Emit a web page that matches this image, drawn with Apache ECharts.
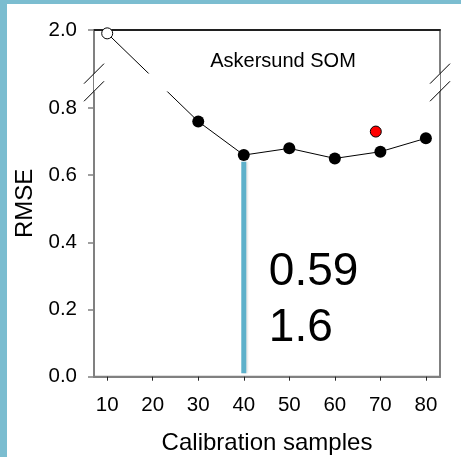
<!DOCTYPE html>
<html>
<head>
<meta charset="utf-8">
<script src="https://cdn.jsdelivr.net/npm/echarts@6/dist/echarts.min.js"></script>
<style>
html,body{margin:0;padding:0;background:#fff;}
#frame{position:absolute;left:0;top:0;width:461px;height:457px;background:#7bbdd0;}
#chart{position:absolute;left:7px;top:4px;width:454px;height:453px;background:#fff;}
</style>
</head>
<body>
<div id="frame"></div>
<div id="chart"></div>
<script>
// ---- data ----
const samples = [10, 30, 40, 50, 60, 70, 80];
const rmse = [1.99, 0.76, 0.66, 0.68, 0.65, 0.67, 0.71];
const outlierX = [69];
const outlierY = [0.73];
const highlightX = [40, 40];
const highlightY = [0.64, 0.01];
const xTicks = [10, 20, 30, 40, 50, 60, 70, 80];
const yTicks = [0, 0.2, 0.4, 0.6, 0.8, 2.0];
const yBreak = [0.85, 1.87];
const chartTitle = 'Askersund SOM';
const annotations = ['0.59', '1.6'];
const xName = 'Calibration samples';
const yName = 'RMSE';

const FONT = '"Liberation Sans", Arial, sans-serif';
const GRAY = '#808080';
const OX = 7, OY = 4; // chart div offset within page

const chart = echarts.init(document.getElementById('chart'), null, {renderer: 'canvas'});

const mainData = samples.map((x, i) => {
  const item = {value: [x, rmse[i]]};
  if (i === 0) {
    item.symbolSize = 11;
    item.itemStyle = {color: '#fff', borderColor: '#000', borderWidth: 1};
  }
  return item;
});

const option = {
  animation: false,
  grid: {
    left: 94 - OX, right: 21, top: 30 - OY, bottom: 80.3,
    outerBoundsMode: 'none', containLabel: false,
    show: true, borderColor: GRAY, borderWidth: 2, backgroundColor: 'transparent'
  },
  xAxis: [{
    type: 'value', min: 7.1, max: 83.1,
    name: xName, nameLocation: 'middle', nameGap: 55,
    nameTextStyle: {fontFamily: FONT, fontSize: 24, color: '#000'},
    axisLine: {show: true, lineStyle: {color: GRAY, width: 2}},
    axisTick: {show: true, length: 4, customValues: xTicks, lineStyle: {color: '#222', width: 1}},
    axisLabel: {customValues: xTicks, fontFamily: FONT, fontSize: 20.5, color: '#000', margin: 18},
    splitLine: {show: false}
  }, {
    type: 'value', position: 'top', min: 7.1, max: 83.1,
    axisLine: {show: true, onZero: false, lineStyle: {color: '#000', width: 1.5}},
    axisTick: {show: false}, axisLabel: {show: false}, splitLine: {show: false}
  }],
  yAxis: [{
    type: 'value', min: 0, max: 2.0,
    breaks: [{start: yBreak[0], end: yBreak[1], gap: '5.08%'}],
    breakArea: {
      show: true,
      itemStyle: {color: '#fff', opacity: 1, borderWidth: 0, borderColor: 'rgba(0,0,0,0)'},
      zigzagAmplitude: 0,
      expandOnClick: false
    },
    name: yName, nameLocation: 'middle', nameGap: 57, nameRotate: 90,
    nameTextStyle: {fontFamily: FONT, fontSize: 24, color: '#000'},
    axisLine: {show: false},
    axisTick: {show: true, length: 6, customValues: yTicks, lineStyle: {color: GRAY, width: 1.5}},
    axisLabel: {customValues: yTicks, fontFamily: FONT, fontSize: 20.5, color: '#000', margin: 17,
      formatter: v => Number(v).toFixed(1)},
    splitLine: {show: false}
  }],
  series: [{
    type: 'line',
    data: highlightX.map((x, i) => [x, highlightY[i]]),
    symbol: 'none',
    lineStyle: {color: '#5db0ca', width: 5, cap: 'butt',
      shadowColor: 'rgba(0,0,0,0.12)', shadowBlur: 2, shadowOffsetX: 1.5},
    z: 1, clip: false, silent: true
  }, {
    type: 'line',
    data: mainData,
    symbol: 'circle', symbolSize: 12,
    itemStyle: {color: '#000', borderColor: '#000', borderWidth: 0},
    lineStyle: {color: '#000', width: 1},
    z: 3, clip: false
  }, {
    type: 'scatter',
    data: outlierX.map((x, i) => [x, outlierY[i]]),
    symbol: 'circle', symbolSize: 11,
    itemStyle: {color: '#ff0000', borderColor: '#000', borderWidth: 1, opacity: 1},
    z: 3, clip: false
  }]
};
chart.setOption(option);

// break marks and text, positioned from the axis scales
const yA = chart.convertToPixel({yAxisIndex: 0}, yBreak[1]);
const yB = chart.convertToPixel({yAxisIndex: 0}, yBreak[0]);
const xL = chart.convertToPixel({xAxisIndex: 0}, 7.1);
const xR = chart.convertToPixel({xAxisIndex: 0}, 83.1);
const mk = (cx, cy) => ({type: 'line', shape: {x1: cx - 10, y1: cy + 10, x2: cx + 10, y2: cy - 10},
  style: {stroke: '#000', lineWidth: 1}, z: 200});
const xText = chart.convertToPixel({xAxisIndex: 0}, 45.5);
chart.setOption({
  graphic: [
    mk(xL, yA), mk(xL, yB), mk(xR, yA), mk(xR, yB),
    {type: 'text', x: 283 - OX, y: 61 - OY, z: 200,
      style: {text: chartTitle, font: '20px ' + FONT, fill: '#000', align: 'center', verticalAlign: 'middle'}},
    {type: 'text', x: xText, y: 272 - OY, z: 200,
      style: {text: annotations[0], font: '46px ' + FONT, fill: '#000', align: 'left', verticalAlign: 'middle'}},
    {type: 'text', x: xText, y: 328 - OY, z: 200,
      style: {text: annotations[1], font: '46px ' + FONT, fill: '#000', align: 'left', verticalAlign: 'middle'}}
  ]
});
</script>
</body>
</html>
